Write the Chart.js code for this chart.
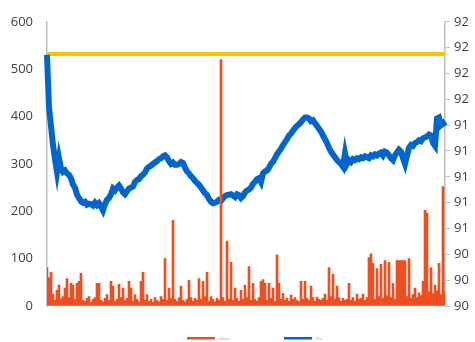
<!DOCTYPE html>
<html>
<head>
<meta charset="utf-8">
<script src="https://cdn.jsdelivr.net/npm/chart.js@4"></script>
<style>
  body { margin: 0; background: #fff; }
  #chart { display: block; }
</style>
</head>
<body>
<canvas id="chart" width="475" height="342"></canvas>
<script>
// one category per sample, the x axis itself is hidden
const categories = Array.from({ length: 200 }, (_, i) => i + 1);

const volumeValues = [
    81, 60, 71, 25, 12, 33, 44, 15, 20, 38,
    58, 18, 48, 44, 14, 48, 52, 69, 12, 10,
    16, 20, 8, 14, 18, 48, 48, 12, 9, 16,
    24, 12, 52, 42, 10, 14, 46, 18, 38, 12,
    16, 52, 38, 10, 24, 14, 9, 52, 71, 12,
    24, 10, 14, 8, 18, 12, 9, 20, 14, 100,
    12, 38, 16, 181, 14, 10, 17, 42, 12, 9,
    14, 54, 18, 10, 16, 12, 58, 14, 52, 20,
    71, 10, 20, 14, 9, 16, 12, 520, 18, 10,
    137, 14, 92, 12, 38, 16, 10, 33, 14, 44,
    18, 83, 12, 48, 14, 10, 18, 52, 56, 48,
    12, 48, 16, 38, 10, 108, 48, 14, 27, 12,
    16, 10, 23, 14, 18, 12, 9, 52, 14, 52,
    16, 12, 42, 18, 10, 19, 14, 12, 16, 25,
    12, 81, 20, 67, 14, 42, 18, 10, 16, 12,
    14, 48, 12, 18, 10, 25, 14, 16, 25, 12,
    18, 102, 110, 90, 14, 79, 20, 88, 16, 96,
    22, 92, 18, 48, 14, 96, 96, 96, 96, 96,
    20, 100, 16, 24, 38, 18, 28, 22, 52, 202,
    196, 30, 81, 26, 44, 32, 90, 24, 252, 30
];

const priceValues = [
    530, 420, 380, 340, 310, 283, 312, 290, 283, 286,
    280, 277, 270, 256, 250, 235, 228, 221, 218, 220,
    214, 216, 215, 212, 218, 213, 217, 210, 202, 215,
    224, 228, 236, 248, 244, 250, 254, 248, 240, 236,
    242, 248, 250, 252, 262, 266, 268, 274, 277, 282,
    290, 294, 296, 300, 303, 306, 310, 312, 316, 318,
    314, 306, 300, 303, 298, 298, 300, 304, 302, 292,
    284, 280, 274, 270, 264, 260, 256, 250, 244, 238,
    234, 226, 220, 217, 218, 220, 224, 222, 228, 232,
    234, 235, 236, 233, 230, 236, 234, 228, 232, 240,
    244, 246, 250, 258, 262, 268, 270, 262, 280, 284,
    286, 292, 300, 304, 312, 320, 326, 332, 340, 346,
    352, 360, 364, 370, 376, 380, 384, 388, 394, 398,
    398, 396, 390, 392, 386, 380, 374, 368, 360, 352,
    344, 334, 326, 320, 314, 308, 304, 300, 294, 322,
    300, 308, 304, 310, 308, 312, 310, 314, 312, 316,
    314, 312, 318, 316, 320, 318, 322, 324, 318, 326,
    324, 318, 312, 308, 318, 324, 330, 326, 312, 300,
    318, 334, 340, 338, 344, 346, 350, 348, 354, 356,
    358, 362, 360, 344, 338, 396, 398, 382, 386, 380
];

// flat target level, read on the right axis
const targetLevel = 91.95;

const leftTicks = { min: 0, max: 600, step: 100 };
const rightTicks = { min: 90, max: 92.2, step: 0.2 };

const ORANGE = '#F04E1E';
const BLUE = '#0066CC';
const GOLD = '#FFC000';

// small legend under the plot, only for the first two series
const bottomLegend = {
    id: 'bottomLegend',
    afterDraw(chart) {
        const ctx = chart.ctx;
        const area = chart.chartArea;
        const centre = (area.left + area.right) / 2;
        let x = centre - 59;
        const y = 338;
        ctx.save();
        [0, 1].forEach(function(i) {
            const ds = chart.data.datasets[i];
            ctx.fillStyle = ds.legendColor;
            ctx.fillRect(x, y - 1, 28, 2.5);
            ctx.fillStyle = '#999';
            ctx.font = '3px "Open Sans"';
            ctx.textBaseline = 'middle';
            ctx.fillText(ds.label, x + 32, y + 1);
            x += 97;
        });
        ctx.restore();
    }
};

new Chart(document.getElementById('chart'), {
    data: {
        labels: categories,
        datasets: [
            {
                type: 'bar',
                label: 'Volume',
                data: volumeValues,
                backgroundColor: ORANGE,
                legendColor: ORANGE,
                barPercentage: 1,
                categoryPercentage: 1,
                yAxisID: 'y',
                order: 0
            },
            {
                type: 'line',
                label: 'Price',
                data: priceValues,
                borderColor: BLUE,
                legendColor: BLUE,
                borderWidth: 6,
                pointRadius: 0,
                tension: 0,
                yAxisID: 'y',
                order: 1
            },
            {
                type: 'line',
                label: 'Target',
                data: categories.map(() => targetLevel),
                borderColor: GOLD,
                borderWidth: 4,
                pointRadius: 0,
                yAxisID: 'y1',
                order: 2
            }
        ]
    },
    options: {
        responsive: false,
        animation: false,
        layout: { padding: { top: 17, bottom: 36, left: 0, right: 0 } },
        plugins: {
            legend: { display: false },
            tooltip: { enabled: false }
        },
        scales: {
            x: {
                display: false,
                offset: false
            },
            y: {
                position: 'left',
                min: leftTicks.min,
                max: leftTicks.max,
                ticks: {
                    stepSize: leftTicks.step,
                    padding: 14,
                    color: '#404040',
                    font: { family: 'Open Sans', size: 13 }
                },
                grid: { drawOnChartArea: false, drawTicks: false },
                border: { color: '#BFBFBF', width: 1.5 },
                afterFit: function(scale) { scale.width = 47; }
            },
            y1: {
                position: 'right',
                min: rightTicks.min,
                max: rightTicks.max,
                ticks: {
                    stepSize: rightTicks.step,
                    padding: 4,
                    color: '#404040',
                    font: { family: 'Open Sans', size: 13 },
                    callback: function(value) { return Math.round(value); }
                },
                grid: { drawOnChartArea: false, tickLength: 5, color: '#BFBFBF' },
                border: { color: '#BFBFBF', width: 1.5 },
                afterFit: function(scale) { scale.width = 30; }
            }
        }
    },
    plugins: [bottomLegend]
});
</script>
</body>
</html>
